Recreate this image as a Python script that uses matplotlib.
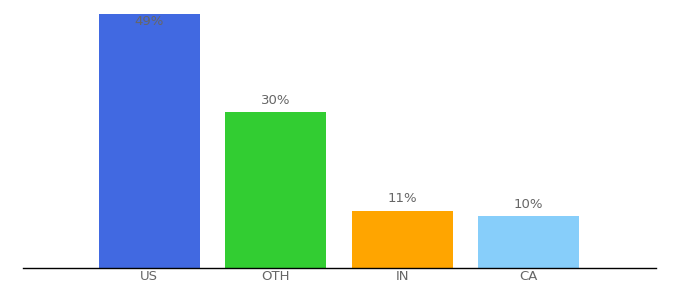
import matplotlib
matplotlib.use("Agg")
import matplotlib.pyplot as plt

categories = ["US", "OTH", "IN", "CA"]
values = [49, 30, 11, 10]
labels = ["49%", "30%", "11%", "10%"]
colors = ["#4169e1", "#32cd32", "#ffa500", "#87cefa"]

fig = plt.figure(figsize=(6.8, 3.0), dpi=100)
ax = fig.add_axes([23/680, 32/300, (656-23)/680, 268/300])
x = list(range(len(categories)))
ax.bar(x, values, width=0.8, color=colors)
ax.set_xlim(-1, 4.01)
ymax = 49 * 268 / 254
ax.set_ylim(0, ymax)

for xi, v, lab in zip(x, values, labels):
    if v > ymax - 3:
        ax.annotate(lab, (xi, v), xytext=(0, -1), textcoords="offset points",
                    ha="center", va="top", fontsize=9.5, color="#666666")
    else:
        ax.annotate(lab, (xi, v), xytext=(0, 4), textcoords="offset points",
                    ha="center", va="bottom", fontsize=9.5, color="#666666")

for s in ["top", "right", "left"]:
    ax.spines[s].set_visible(False)
ax.spines["bottom"].set_color("#000000")
ax.spines["bottom"].set_linewidth(1)
ax.set_yticks([])
ax.set_xticks(x)
ax.set_xticklabels(categories, fontsize=9.5, color="#666666")
ax.tick_params(axis="x", length=0, pad=1.5)

fig.savefig("out.png", dpi=100)
